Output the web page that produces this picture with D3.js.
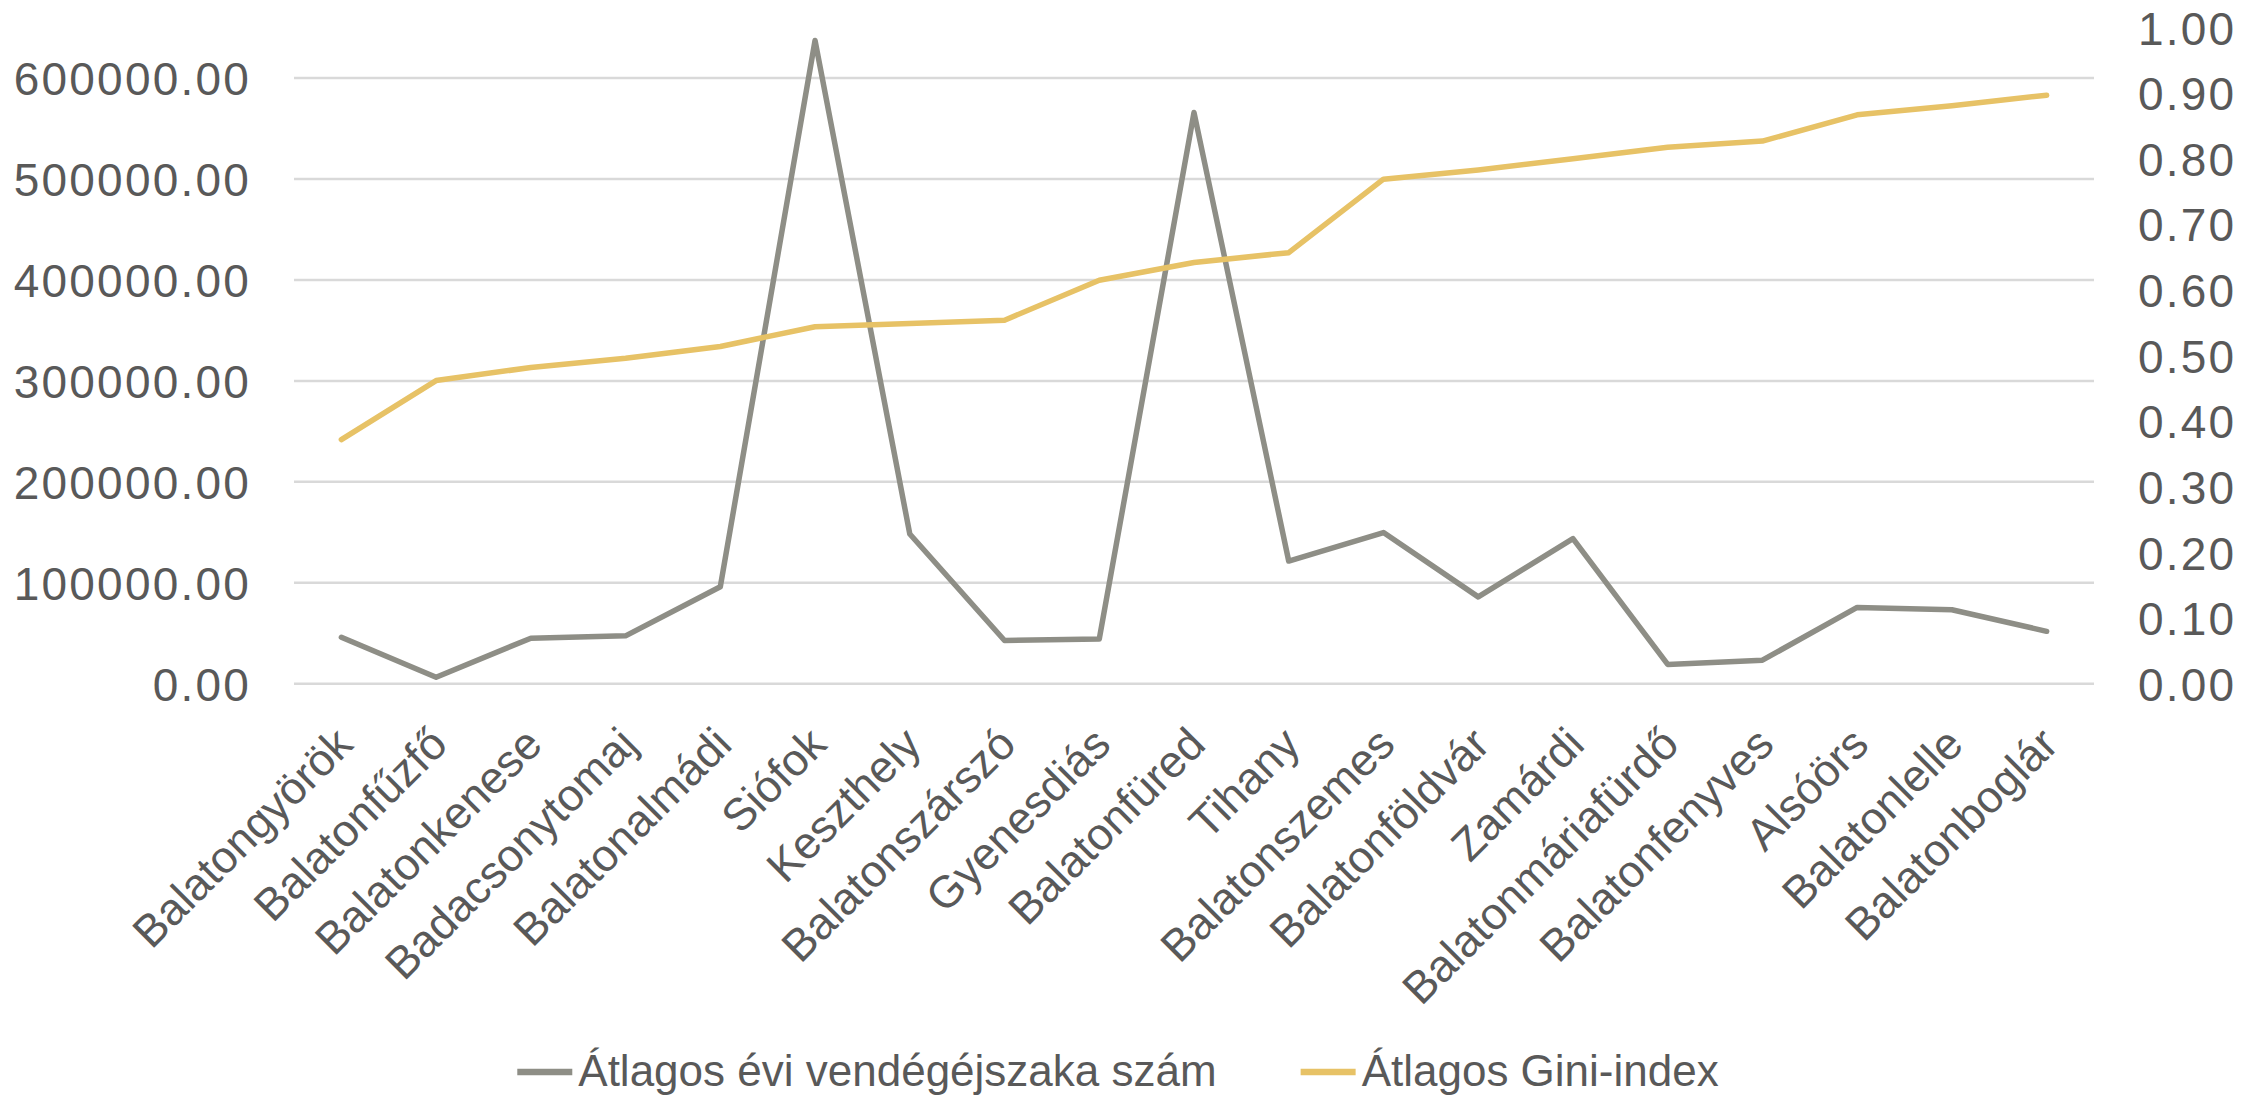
<!DOCTYPE html>
<html>
<head>
<meta charset="utf-8">
<script src="https://cdn.jsdelivr.net/npm/d3@7"></script>
<style>
  body { margin: 0; background: #fff; }
  svg text { font-family: "Liberation Sans", Arial, sans-serif; fill: #595959; }
</style>
</head>
<body>
<div id="main"></div>
<script>
var width = 2261,
    height = 1097;

// telepulesek
var categories = ["Balatongyörök", "Balatonfűzfő", "Balatonkenese", "Badacsonytomaj", "Balatonalmádi",
  "Siófok", "Keszthely", "Balatonszárszó", "Gyenesdiás", "Balatonfüred", "Tihany", "Balatonszemes",
  "Balatonföldvár", "Zamárdi", "Balatonmáriafürdő", "Balatonfenyves", "Alsóörs", "Balatonlelle", "Balatonboglár"];

var vendegejszaka = [46000, 6400, 45100, 47400, 96000, 637300, 148300, 42800, 44200, 565900,
  121500, 149700, 86000, 143700, 19100, 23300, 75600, 73300, 51900];

var gini = [0.372, 0.462, 0.482, 0.496, 0.514, 0.544, 0.549, 0.554, 0.615, 0.642,
  0.657, 0.769, 0.783, 0.800, 0.8175, 0.827, 0.867, 0.881, 0.897];

var leftTicks = [0, 100000, 200000, 300000, 400000, 500000, 600000];
var rightTicks = [0, 0.1, 0.2, 0.3, 0.4, 0.5, 0.6, 0.7, 0.8, 0.9, 1.0];

var seriesNames = ["Átlagos évi vendégéjszaka szám", "Átlagos Gini-index"];
var colors = ["#8e8e86", "#e7c266"];

var plotLeft = 294, plotRight = 2094, plotTop = 27.6, plotBottom = 683.7;

var x = d3.scalePoint()
  .domain(categories)
  .range([plotLeft, plotRight])
  .padding(0.5);

var yLeft = d3.scaleLinear().domain([0, 650000]).range([plotBottom, plotTop]);
var yRight = d3.scaleLinear().domain([0, 1]).range([plotBottom, plotTop]);

var svg = d3.select("#main").append("svg")
  .attr("width", width)
  .attr("height", height);

// gridlines (left axis)
svg.append("g").selectAll("line")
  .data(leftTicks)
  .enter().append("line")
  .attr("x1", plotLeft)
  .attr("x2", plotRight)
  .attr("y1", function (d) { return yLeft(d); })
  .attr("y2", function (d) { return yLeft(d); })
  .attr("stroke", "#d9d9d9")
  .attr("stroke-width", 2.5);

// left axis
var leftAxis = svg.append("g")
  .attr("transform", "translate(" + (plotLeft - 43) + ",0)")
  .call(d3.axisLeft(yLeft).tickValues(leftTicks).tickFormat(d3.format(".2f")).tickSize(0).tickPadding(0));
leftAxis.select(".domain").remove();
leftAxis.selectAll("text")
  .attr("font-size", 46)
  .attr("letter-spacing", 2.2)
  .attr("dy", "0.36em")
  .attr("fill", "#595959");

// right axis
var rightAxis = svg.append("g")
  .attr("transform", "translate(" + (plotRight + 44) + ",0)")
  .call(d3.axisRight(yRight).tickValues(rightTicks).tickFormat(d3.format(".2f")).tickSize(0).tickPadding(0));
rightAxis.select(".domain").remove();
rightAxis.selectAll("text")
  .attr("font-size", 46)
  .attr("letter-spacing", 2.2)
  .attr("dy", "0.36em")
  .attr("fill", "#595959");

// category labels, rotated
var catAxis = svg.append("g")
  .attr("transform", "translate(0," + plotBottom + ")")
  .call(d3.axisBottom(x).tickSize(0).tickPadding(0));
catAxis.select(".domain").remove();
catAxis.selectAll("text")
  .attr("font-size", 45)
  .attr("fill", "#595959")
  .attr("text-anchor", "end")
  .attr("y", 0)
  .attr("dy", "0.35em")
  .attr("transform", "translate(2,52) rotate(-45)");

// lines
var lineLeft = d3.line()
  .x(function (d, i) { return x(categories[i]); })
  .y(function (d) { return yLeft(d); });
var lineRight = d3.line()
  .x(function (d, i) { return x(categories[i]); })
  .y(function (d) { return yRight(d); });

svg.append("path")
  .datum(vendegejszaka)
  .attr("d", lineLeft)
  .attr("fill", "none")
  .attr("stroke", colors[0])
  .attr("stroke-width", 5.5)
  .attr("stroke-linejoin", "round")
  .attr("stroke-linecap", "round");

svg.append("path")
  .datum(gini)
  .attr("d", lineRight)
  .attr("fill", "none")
  .attr("stroke", colors[1])
  .attr("stroke-width", 5.5)
  .attr("stroke-linejoin", "round")
  .attr("stroke-linecap", "round");

// legend
var legend = svg.append("g");
var swatchW = 55, swatchGap = 6, itemGap = 84, legendY = 1086;
var items = legend.selectAll("g")
  .data(seriesNames)
  .enter().append("g");
items.append("line")
  .attr("x1", 0).attr("x2", swatchW)
  .attr("y1", -14).attr("y2", -14)
  .attr("stroke", function (d, i) { return colors[i]; })
  .attr("stroke-width", 6.5);
items.append("text")
  .attr("x", swatchW + swatchGap)
  .attr("y", 0)
  .attr("font-size", 44)
  .attr("fill", "#595959")
  .text(function (d) { return d; });

var widths = [];
items.each(function () { widths.push(this.getBBox().width); });
var total = d3.sum(widths) + itemGap;
var cx = 1118 - total / 2;
items.attr("transform", function (d, i) {
  var xx = cx;
  for (var k = 0; k < i; k++) xx += widths[k] + itemGap;
  return "translate(" + xx + "," + legendY + ")";
});
</script>
</body>
</html>
